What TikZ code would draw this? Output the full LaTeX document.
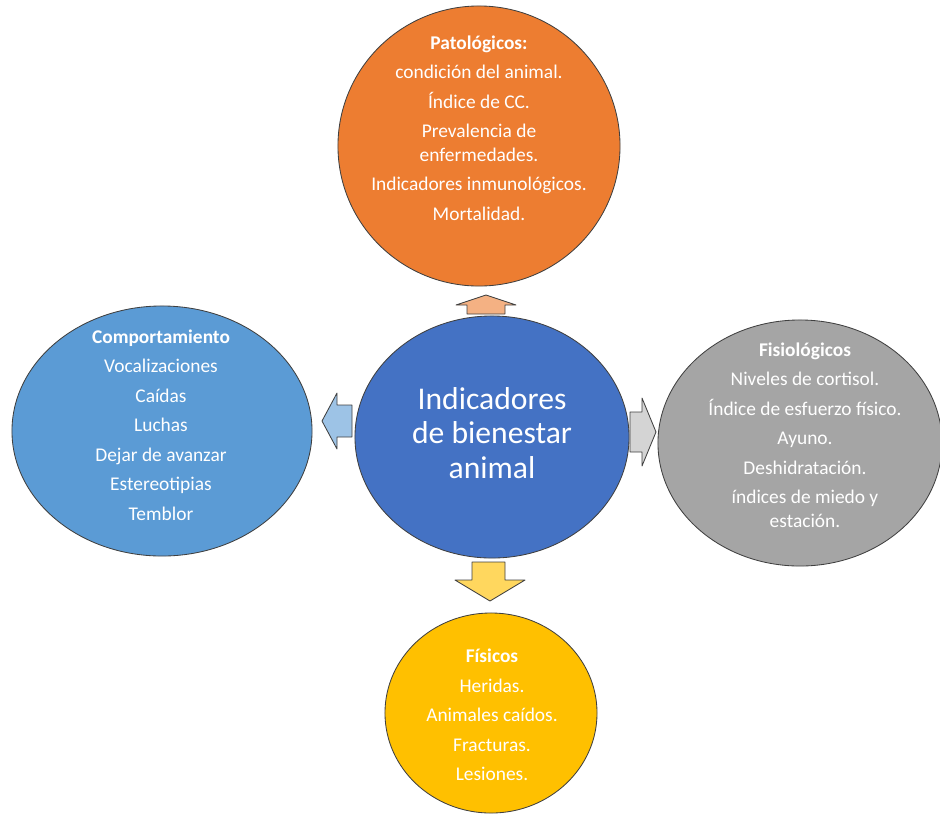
\documentclass[tikz,border=0pt]{standalone}
\usepackage{fontspec}
\setmainfont{Carlito}
\usepackage{tikz}
\usetikzlibrary{shapes.geometric}
\definecolor{pato}{HTML}{ED7D31}
\definecolor{pato2}{HTML}{F4B183}
\definecolor{centro}{HTML}{4472C4}
\definecolor{compo}{HTML}{5B9BD5}
\definecolor{compo2}{HTML}{9DC3E6}
\definecolor{fisio}{HTML}{A5A5A5}
\definecolor{fisio2}{HTML}{D4D4D4}
\definecolor{fisi}{HTML}{FFC000}
\definecolor{fisi2}{HTML}{FFD75E}
\tikzset{
  bola/.style={ellipse, draw=black!75, line width=0.6pt, inner sep=0pt},
  lista/.style={text=white, align=center, font=\fontsize{13.8}{16.5}\selectfont},
  flecha/.style={draw=black!75, line width=0.6pt, line join=round}
}

\begin{document}
\begin{tikzpicture}[x=0.025cm, y=-0.025cm]
		%%%%% START %%%%%
		\useasboundingbox (0, 0) rectangle (940, 818);
		
		% block arrows
		\draw[flecha, fill=pato2] (486, 295) -- (516, 305) -- (505, 305) -- (505, 314) -- (467, 314) -- (467, 305) -- (456, 305) -- cycle;
		\draw[flecha, fill=compo2] (322, 421) -- (337, 393) -- (337, 405) -- (352, 405) -- (352, 437) -- (337, 437) -- (337, 449) -- cycle;
		\draw[flecha, fill=fisio2] (656, 432) -- (642, 398) -- (642, 412) -- (630, 412) -- (630, 452) -- (642, 452) -- (642, 466) -- cycle;
		\draw[flecha, fill=fisi2] (490, 601) -- (525, 580) -- (505, 580) -- (505, 562) -- (472, 562) -- (472, 580) -- (455, 580) -- cycle;
		
		% circles
		\node[bola, fill=pato, minimum width=7.05cm, minimum height=7cm] (patologicos) at (479, 146) {};
		\node[bola, fill=centro, minimum width=6.85cm, minimum height=6.05cm] (indicadores) at (492, 437) {};
		\node[bola, fill=compo, minimum width=7.5cm, minimum height=6.25cm] (comportamiento) at (162, 431) {};
		\node[bola, fill=fisio, minimum width=7.1cm, minimum height=6.15cm] (fisiologicos) at (800, 443) {};
		\node[bola, fill=fisi, minimum width=5.3cm, minimum height=5cm] (fisicos) at (491, 713) {};
		
		% texts
		\node[text=white, align=center, font=\fontsize{22.5}{24.5}\selectfont] (titulo) at (492, 433) {Indicadores\\de bienestar\\animal};
		\node[lista] (pato-txt) at (479, 128) {\textbf{Patológicos:}\\[4.5pt]condición del animal.\\[4.5pt]Índice de CC.\\[4.5pt]Prevalencia de\\enfermedades.\\[4.5pt]Indicadores inmunológicos.\\[4.5pt]Mortalidad.};
		\node[lista] (compo-txt) at (161, 425) {\textbf{Comportamiento}\\[4.5pt]Vocalizaciones\\[4.5pt]Caídas\\[4.5pt]Luchas\\[4.5pt]Dejar de avanzar\\[4.5pt]Estereotipias\\[4.5pt]Temblor};
		\node[lista] (fisio-txt) at (805, 435) {\textbf{Fisiológicos}\\[4.5pt]Niveles de cortisol.\\[4.5pt]Índice de esfuerzo físico.\\[4.5pt]Ayuno.\\[4.5pt]Deshidratación.\\[4.5pt]índices de miedo y\\estación.};
		\node[lista] (fisi-txt) at (492, 715) {\textbf{Físicos}\\[4.5pt]Heridas.\\[4.5pt]Animales caídos.\\[4.5pt]Fracturas.\\[4.5pt]Lesiones.};
		%%%%% END %%%%%
\end{tikzpicture}
\end{document}
